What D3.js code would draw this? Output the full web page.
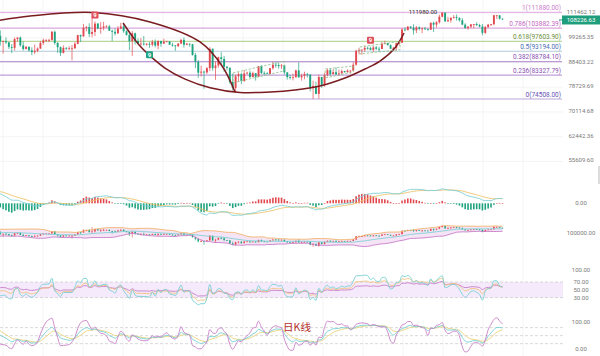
<!DOCTYPE html>
<html><head><meta charset="utf-8">
<script src="https://cdn.jsdelivr.net/npm/d3@7"></script>
<style>html,body{margin:0;padding:0;background:#fff;}svg{display:block;font-family:Roboto,"Noto Sans",sans-serif;}</style>
</head><body><svg id="c" width="600" height="356"></svg>
<script>
// ---------- DATA (daily candles, thousands USD) ----------
const startDate = new Date(2024, 10, 1); // first candle: 2024-11-01
const open = [70.2,69.5,69.3,68.7,67.8,69.4,75.6,75.9,76.5,76.7,80.4,88.7,87.9,90.5,87.4,91.1,90.6,89.8,90.5,92.3,94.3,98.4,98.9,97.8,98.0,93.0,91.9,95.9,95.6,97.5,
96.4,97.3,95.8,96.0,98.8,97.0,99.9,99.9,101.2,97.4,96.6,101.1,100.0,101.4,101.4,104.5,106.1,106.1,100.2,97.5,97.8,97.2,95.1,94.7,98.7,99.4,95.8,94.2,95.2,93.6,92.8,
93.4,94.4,96.9,98.1,98.2,98.3,102.1,96.9,95.0,92.5,94.7,94.5,94.5,94.5,96.5,100.5,99.9,104.1,104.4,101.1,102.0,106.1,103.7,104.0,104.7,104.7,102.6,102.1,101.3,103.7,104.7,
102.4,100.6,97.7,101.4,97.8,96.6,96.6,96.5,96.5,96.1,97.4,95.7,97.8,96.6,97.5,97.6,96.1,95.8,95.5,96.6,98.3,96.1,96.6,96.3,91.6,88.7,84.3,84.7,
84.4,86.1,94.3,86.1,87.2,90.6,89.9,86.7,86.2,80.7,78.5,82.9,83.7,81.1,84.0,84.3,82.6,84.1,82.7,86.9,84.2,84.1,83.8,86.1,87.5,87.4,86.9,87.2,84.4,82.6,82.3,
82.5,85.2,82.5,83.1,83.8,83.5,78.4,79.2,76.3,82.6,79.6,83.4,85.3,83.7,84.5,83.6,84.0,84.9,84.5,85.1,85.1,87.5,93.4,93.7,93.9,94.7,94.6,93.8,94.9,94.3,
94.2,96.5,96.9,95.9,94.3,94.7,96.8,97.0,103.2,102.9,104.6,104.1,102.8,104.2,103.5,103.7,103.5,103.1,106.5,105.6,106.8,109.6,111.7,107.3,107.8,109.0,109.4,108.9,107.8,105.6,103.9,
104.6,105.7,105.9,105.4,104.7,101.6,104.4,105.6,105.8,110.3,110.3,108.6];
const high = [71.6,69.9,69.4,69.0,70.5,76.4,76.9,77.2,76.9,81.5,89.6,89.9,93.4,91.8,91.8,91.7,91.5,92.6,94.0,94.9,98.9,99.6,98.9,98.6,98.9,94.9,97.4,96.6,98.7,97.8,
98.0,98.2,96.3,99.0,104.0,102.0,100.5,101.4,101.2,98.2,101.9,102.5,102.6,102.6,105.1,107.8,108.4,106.5,102.8,98.0,99.5,97.3,96.4,99.4,99.5,99.9,97.5,95.5,95.2,94.9,96.2,
94.9,97.8,98.9,98.7,98.8,102.5,102.7,97.3,95.3,95.8,95.0,95.4,95.9,97.3,100.7,100.8,105.9,104.9,106.3,109.6,107.2,106.4,106.8,107.0,105.3,105.5,103.2,103.8,104.8,106.5,106.0,
102.8,101.5,102.5,101.7,99.0,99.2,100.1,96.9,97.3,98.3,98.5,98.1,97.9,98.8,97.9,97.7,97.0,96.0,96.9,98.8,99.5,96.9,96.6,96.5,92.5,89.4,87.1,85.1,
86.5,95.0,94.4,88.9,90.9,92.8,91.2,86.9,86.5,83.9,83.6,84.4,84.3,85.3,84.7,85.1,84.7,84.1,87.0,87.4,84.8,84.5,86.1,88.8,88.5,88.3,87.8,87.5,84.6,83.5,83.9,
85.5,88.5,83.9,84.7,84.2,83.8,81.2,80.8,83.5,82.7,84.2,85.9,86.1,85.8,86.4,85.5,85.5,85.1,85.6,85.3,88.5,93.8,94.7,94.0,95.8,95.3,95.2,95.6,95.5,95.2,
97.4,97.9,96.9,96.3,95.2,96.9,97.6,103.9,104.3,104.9,104.9,105.8,104.9,104.8,104.2,104.5,103.7,106.7,107.1,107.3,110.7,111.98,111.8,109.5,109.3,110.4,110.7,109.3,108.9,106.3,104.9,
105.9,105.9,106.8,106.0,105.9,105.0,106.0,106.0,110.6,110.4,110.4,108.7];
const low = [68.8,69.0,67.5,66.8,67.5,69.3,74.5,75.6,75.8,76.5,80.2,85.1,86.2,86.7,87.1,90.1,88.8,89.4,90.4,91.5,94.1,97.2,97.2,95.8,92.6,90.8,91.8,94.7,95.4,96.0,
95.7,94.4,93.6,94.7,91.0,96.4,99.0,98.7,94.2,94.3,95.7,99.3,99.2,100.6,101.2,103.3,105.3,100.0,95.7,92.2,96.4,94.2,92.4,93.5,97.6,95.2,93.5,94.0,93.0,91.5,92.0,
92.8,94.2,96.0,97.5,97.3,97.9,96.1,92.5,91.2,92.2,93.8,93.7,89.3,94.3,96.4,97.3,99.9,102.3,99.6,99.5,100.1,103.3,101.2,102.8,104.1,102.5,97.8,100.3,101.3,103.3,101.6,
100.3,93.7,91.2,96.2,96.2,95.7,95.7,95.7,94.7,95.3,94.9,94.1,95.2,96.5,97.3,96.0,95.2,93.4,95.0,96.4,94.8,95.9,95.2,91.3,86.1,82.3,82.8,78.2,
83.8,85.0,85.1,81.5,86.3,87.8,84.7,85.2,80.0,77.5,76.6,80.8,79.9,80.8,83.6,82.1,82.5,81.2,82.7,83.7,83.2,83.7,83.8,85.5,86.3,85.9,85.8,83.6,81.6,81.6,81.3,
82.4,82.3,81.2,81.7,82.4,77.2,74.508,76.2,74.6,78.5,78.9,82.8,83.1,83.7,83.6,83.1,83.9,84.3,84.3,83.9,85.1,87.1,91.9,91.7,92.9,93.9,93.6,92.9,93.8,92.9,
94.2,96.3,95.8,94.2,93.5,93.4,95.8,96.9,102.3,102.8,103.4,100.8,101.5,102.8,101.4,103.1,102.6,103.1,102.0,104.2,106.1,109.3,106.8,106.9,106.6,108.6,107.6,107.1,105.3,103.6,103.1,
103.9,103.8,104.9,104.2,100.4,101.1,104.0,104.9,105.3,108.4,108.1,108.0];
const close = [69.5,69.3,68.7,67.8,69.4,75.6,75.9,76.5,76.7,80.4,88.7,87.9,90.5,87.4,91.1,90.6,89.8,90.5,92.3,94.3,98.4,98.9,97.8,98.0,93.0,91.9,95.9,95.6,97.5,96.4,
97.3,95.8,96.0,98.8,97.0,99.9,99.9,101.2,97.4,96.6,101.1,100.0,101.4,101.4,104.5,106.1,106.1,100.2,97.5,97.8,97.2,95.1,94.7,98.7,99.4,95.8,94.2,95.2,93.6,92.8,93.4,
94.4,96.9,98.1,98.2,98.3,102.1,96.9,95.0,92.5,94.7,94.5,94.5,94.5,96.5,100.5,99.9,104.1,104.4,101.1,102.0,106.1,103.7,104.0,104.7,104.7,102.6,102.1,101.3,103.7,104.7,102.4,
100.6,97.7,101.4,97.8,96.6,96.6,96.5,96.5,96.1,97.4,95.7,97.8,96.6,97.5,97.6,96.1,95.8,95.5,96.6,98.3,96.1,96.6,96.3,91.6,88.7,84.3,84.7,84.4,
86.1,94.3,86.1,87.2,90.6,89.9,86.7,86.2,80.7,78.5,82.9,83.7,81.1,84.0,84.3,82.6,84.1,82.7,86.9,84.2,84.1,83.8,86.1,87.5,87.4,86.9,87.2,84.4,82.6,82.3,82.5,
85.2,82.5,83.1,83.8,83.5,78.4,79.2,76.3,82.6,79.6,83.4,85.3,83.7,84.5,83.6,84.0,84.9,84.5,85.1,85.1,87.5,93.4,93.7,93.9,94.7,94.6,93.8,94.9,94.3,94.2,
96.5,96.9,95.9,94.3,94.7,96.8,97.0,103.2,102.9,104.6,104.1,102.8,104.2,103.5,103.7,103.5,103.1,106.5,105.6,106.8,109.6,111.7,107.3,107.8,109.0,109.4,108.9,107.8,105.6,103.9,104.6,
105.7,105.9,105.4,104.7,101.6,104.4,105.6,105.8,110.3,110.3,108.6,108.22663];

const priceTicks = [111462.12, 99265.35, 88403.22, 78729.69, 70114.68, 62442.36, 55609.60];
const fibRatios = ["1", "0.786", "0.618", "0.5", "0.382", "0.236", "0"];
const fibPrices = [111880.00, 103882.39, 97603.90, 93194.00, 88784.10, 83327.79, 74508.00];
const fibLineColors = ["#e6b6e6", "#dba7dc", "#b7d79d", "#b2cbd8", "#bd9ad8", "#bf9fda", "#bba6d9"];
const fibTextColors = ["#cc80cc", "#c466c4", "#6b8f3c", "#4a70b4", "#8a52b2", "#8a52b2", "#6552b4"];
const lastPrice = 108226.63;
const highLabel = 111980.00, highIndex = 202;
// TD-sequential "9" marks: [candle index, kind]
const tdMarks = [[81, "sell"], [100, "buy"], [177, "sell"]];
// drawn annotations in [candle index, price]
const arcUpper = [[46.2,107410],[58.4,109956],[80.3,111775],[100.2,106906],[117.6,97340],[125.3,86970],[129.8,77000]];
const arcCup = [[90.8,106400],[93.2,101540],[96.7,95540],[100.2,91210],[105.4,86160],[112.4,81770],[121.1,78540],[131.5,76830],[142.0,77010],[150.7,77730],[159.4,79200],[168.1,82200],[175.1,85760],[180.3,89000],[185.5,94650],[188.7,101540]];
const channels = [
  [[129.1,84180],[146.9,89000],[146.9,84980],[129.1,80390]],
  [[161.2,85760],[171.0,86970],[171.0,84580],[161.2,82210]],
  [[173.3,95090],[187.3,97600],[187.3,93860],[173.3,92040]]
];
const macdTicks = [0];
const bollTicks = [100000];
const rsiTicks = [100, 70, 50, 30];
const kdjTicks = [100, 0];
const kdjLevels = [80, 50, 20];

// ---------- SETUP ----------
const UP = "#e2494f", DN = "#1fa37f";
const N = close.length;
const O = open.map(v => v*1000), H = high.map(v => v*1000), L = low.map(v => v*1000), C = close.map(v => v*1000);
const dates = d3.timeDay.range(startDate, d3.timeDay.offset(startDate, N));
const idx = d3.range(N);
const svg = d3.select("#c");
svg.append("rect").attr("width",600).attr("height",356).attr("fill","#fff");
const PW = 563;
const x = d3.scaleLinear().domain([73, 223]).range([72, 502.5]);
const y = d3.scaleLog().domain([74508, 111880]).range([99, 12.3]);
const defs = svg.append("defs");
defs.append("clipPath").attr("id","cm").append("rect").attr("x",0).attr("y",0).attr("width",PW).attr("height",170);
defs.append("clipPath").attr("id","cs").append("rect").attr("x",0).attr("y",170).attr("width",PW).attr("height",186);

// grid
const grid = svg.append("g");
d3.range(3, PW, 40).forEach(gx => grid.append("line").attr("x1",gx).attr("x2",gx).attr("y1",0).attr("y2",356).attr("stroke","#f3f3f3").attr("stroke-width",0.8));
priceTicks.forEach(t => grid.append("line").attr("x1",0).attr("x2",PW).attr("y1",y(t)).attr("y2",y(t)).attr("stroke","#f1f1f1").attr("stroke-width",0.8));

const main = svg.append("g").attr("clip-path","url(#cm)");
// fib lines
fibPrices.forEach((p,k) => main.append("line").attr("x1",0).attr("x2",562).attr("y1",y(p)).attr("y2",y(p)).attr("stroke",fibLineColors[k]).attr("stroke-width",1.2));

// candles
function drawCandles(g, ys, bw, ww){
  idx.forEach(i => {
    const col = C[i] >= O[i] ? UP : DN;
    g.append("line").attr("x1",x(i)).attr("x2",x(i)).attr("y1",ys(H[i])).attr("y2",ys(L[i])).attr("stroke",col).attr("stroke-width",ww);
    const t = ys(Math.max(O[i],C[i])), b = ys(Math.min(O[i],C[i]));
    g.append("rect").attr("x",x(i)-bw/2).attr("width",bw).attr("y",t).attr("height",Math.max(0.8,b-t)).attr("fill",col);
  });
}
drawCandles(main, y, 1.9, 0.7);

// annotations
const aline = d3.line().x(d => x(d[0])).y(d => y(d[1])).curve(d3.curveCatmullRom.alpha(0.5));
main.append("path").attr("d",aline(arcUpper)).attr("fill","none").attr("stroke","#7a1c1f").attr("stroke-width",1.5);
main.append("path").attr("d",aline(arcCup)).attr("fill","none").attr("stroke","#7a1c1f").attr("stroke-width",1.5);
const pline = d3.line().x(d => x(d[0])).y(d => y(d[1]));
channels.forEach(ch => main.append("path").attr("d",pline(ch)+"Z").attr("fill","none").attr("stroke","#8fc286").attr("stroke-width",0.8).attr("stroke-dasharray","2.5,1.5"));

// fib labels
fibPrices.forEach((p,k) => svg.append("text").attr("x",561).attr("y",y(p)-2.3).attr("text-anchor","end").attr("font-size",6.5).attr("fill",fibTextColors[k]).text(fibRatios[k]+"("+d3.format(".2f")(p)+")"));

// high label
svg.append("text").attr("x",x(highIndex)-5).attr("y",y(highLabel)+2).attr("text-anchor","end").attr("font-size",6).attr("fill","#333").text(d3.format(".2f")(highLabel));

// TD marks
tdMarks.forEach(([i,kind]) => {
  const cy = kind === "sell" ? y(H[i]) - 6.5 : y(L[i]) + 7;
  const col = kind === "sell" ? "#e0505a" : "#1fa383";
  svg.append("rect").attr("x",x(i)-3.5).attr("y",cy-3.5).attr("width",7).attr("height",7).attr("rx",1).attr("fill",col);
  svg.append("text").attr("x",x(i)).attr("y",cy+2.1).attr("text-anchor","middle").attr("font-size",6).attr("font-weight","bold").attr("fill","#fff").text("9");
});

// price axis
const ax = svg.append("g").attr("transform","translate(581,0)").call(d3.axisRight(y).tickValues(priceTicks).tickSize(0).tickFormat(d3.format(".2f")));
ax.select(".domain").remove();
ax.selectAll("text").attr("x",0).attr("dy",null).attr("y",-1).attr("dominant-baseline","middle").attr("text-anchor","middle").attr("font-size",6).attr("fill","#7a7a7a").attr("font-family","Roboto,sans-serif");
// last price tag
const ly = y(lastPrice) + 0.6;
svg.append("line").attr("x1",559).attr("x2",563).attr("y1",ly).attr("y2",ly).attr("stroke","#1f9e7d").attr("stroke-width",1);
svg.append("rect").attr("x",562).attr("y",ly-4.5).attr("width",38).attr("height",9).attr("fill","#1f9e7d");
svg.append("text").attr("x",581).attr("y",ly+2.1).attr("text-anchor","middle").attr("font-size",6).attr("fill","#fff").text(d3.format(".2f")(lastPrice));
svg.append("rect").attr("x",598).attr("y",166).attr("width",2).attr("height",18).attr("fill","#dcdcdc");

// ---------- INDICATORS (derived from the candles) ----------
function ema(arr,n){ const out=[]; arr.forEach((v,i)=> out.push(i===0? v : (2*v + (n-1)*out[i-1])/(n+1))); return out; }
function sma(arr,n,m){ const out=[]; arr.forEach((v,i)=> out.push(i===0? v : (m*v + (n-m)*out[i-1])/n)); return out; }
const e12 = ema(C,12), e26 = ema(C,26);
const dif = C.map((_,i)=> e12[i]-e26[i]);
const dea = ema(dif,9);
const hist = dif.map((v,i)=> 2*(v-dea[i]));
const diff = C.map((v,i)=> i===0?0:v-C[i-1]);
const upv = diff.map(v=>Math.max(v,0)), absv = diff.map(v=>Math.abs(v));
function rsi(n){ const a=sma(upv,n,1), b=sma(absv,n,1); return a.map((v,i)=> b[i]===0?50:v/b[i]*100); }
const rsi6 = rsi(6), rsi12 = rsi(12), rsi24 = rsi(24);
const kArr=[], dArr=[], jArr=[]; let kv=50, dv=50;
idx.forEach(i => { const s=Math.max(0,i-8); const lo=d3.min(L.slice(s,i+1)), hi=d3.max(H.slice(s,i+1)); const rsv = hi===lo?50:(C[i]-lo)/(hi-lo)*100; kv=(2*kv+rsv)/3; dv=(2*dv+kv)/3; kArr.push(kv); dArr.push(dv); jArr.push(3*kv-2*dv); });
const bMid=[], bUp=[], bLo=[];
idx.forEach(i => { if(i<19){bMid.push(null);bUp.push(null);bLo.push(null);return;} const w=C.slice(i-19,i+1); const m=d3.mean(w); const sd=Math.sqrt(d3.mean(w.map(v=>(v-m)*(v-m)))); bMid.push(m); bUp.push(m+2*sd); bLo.push(m-2*sd); });

const sub = svg.append("g").attr("clip-path","url(#cs)");
function lineOf(arr, ys, col, w){ const vis = idx.filter(i => arr[i]!==null && x(i) > -10); sub.append("path").attr("d", d3.line().x(i=>x(i)).y(i=>ys(arr[i])).curve(d3.curveMonotoneX)(vis)).attr("fill","none").attr("stroke",col).attr("stroke-width",w||0.9); }
function labels(ticks, ys, fmt){ ticks.forEach(t => svg.append("text").attr("x",581).attr("y",ys(t)+2).attr("text-anchor","middle").attr("font-size",6).attr("fill","#7a7a7a").text(fmt(t))); }
const f2 = d3.format(".2f");

// MACD
const my = d3.scaleLinear().domain([-6000,6000]).range([203.3+20.5, 203.3-20.5]);
idx.forEach(i => { const t = Math.min(my(0),my(hist[i])), h = Math.abs(my(hist[i])-my(0)); sub.append("rect").attr("x",x(i)-0.8).attr("width",1.6).attr("y",t).attr("height",Math.max(0.6,h)).attr("fill", hist[i]>=0? UP : DN); });
lineOf(dea, my, "#efc46d");
lineOf(dif, my, "#7fd0d6");
labels(macdTicks, my, f2);

// BOLL + mini candles
const by = d3.scaleLinear().domain([70000,115000]).range([249.4,224.1]);
const bIdx = idx.filter(i => bUp[i]!==null);
sub.append("path").attr("d", d3.area().x(i=>x(i)).y0(i=>by(bLo[i])).y1(i=>by(bUp[i])).curve(d3.curveMonotoneX)(bIdx)).attr("fill","#f1d9f1").attr("opacity",0.7);
drawCandles(sub, by, 1.5, 0.6);
lineOf(bUp, by, "#f2b36c");
lineOf(bMid, by, "#7fd0d6");
lineOf(bLo, by, "#c77dc7");
labels(bollTicks, by, f2);

// RSI
const ry = d3.scaleLinear().domain([0,100]).range([309.3,270.3]);
sub.append("rect").attr("x",0).attr("width",PW).attr("y",ry(70)).attr("height",ry(30)-ry(70)).attr("fill","#f5eafc");
[70,30].forEach(v => sub.append("line").attr("x1",0).attr("x2",PW).attr("y1",ry(v)).attr("y2",ry(v)).attr("stroke","#c8c8c8").attr("stroke-width",0.7).attr("stroke-dasharray","3,2"));
lineOf(rsi24, ry, "#c77dc7");
lineOf(rsi12, ry, "#f0c27c");
lineOf(rsi6, ry, "#74cfd2");
labels(rsiTicks, ry, f2);

// KDJ
const ky = d3.scaleLinear().domain([0,100]).range([349,322.3]);
kdjLevels.forEach(v => sub.append("line").attr("x1",0).attr("x2",PW).attr("y1",ky(v)).attr("y2",ky(v)).attr("stroke","#c8c8c8").attr("stroke-width",0.7).attr("stroke-dasharray","3,2"));
lineOf(dArr, ky, "#ecd27a");
lineOf(kArr, ky, "#74cfd2");
lineOf(jArr, ky, "#c77dc7");
labels(kdjTicks, ky, f2);
svg.append("text").attr("x",297).attr("y",330.5).attr("text-anchor","middle").attr("font-size",10.5).attr("font-family","'Noto Sans CJK SC',sans-serif").attr("fill","#b5302a").text("日K线");
</script></body></html>
